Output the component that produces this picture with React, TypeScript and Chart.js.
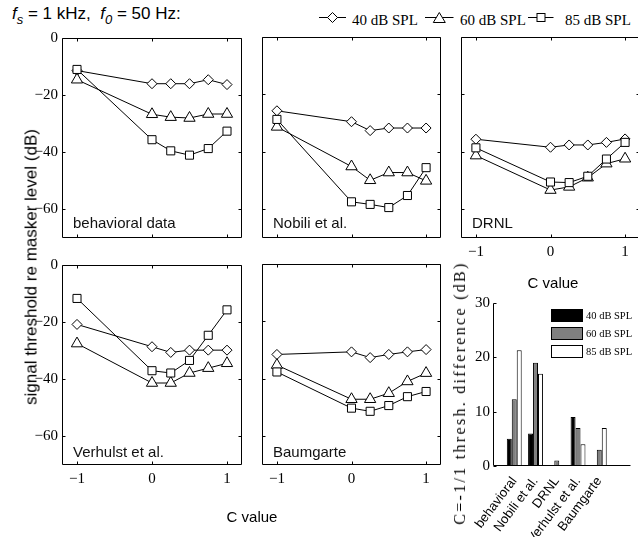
import React, { useEffect, useRef } from 'react';
import { Chart, registerables } from 'chart.js';

Chart.register(...registerables);

// ---------- data ----------
const cValues = [-1, 0, 0.25, 0.5, 0.75, 1];
const levels = ['40 dB SPL', '60 dB SPL', '85 dB SPL'];

const behavioral40 = [-11.4, -16, -16, -16, -14.6, -16.3];
const behavioral60 = [-14.6, -26.7, -27.7, -28, -26.6, -26.6];
const behavioral85 = [-11, -35.6, -39.5, -41, -38.7, -32.6];

const nobili40 = [-25.7, -29.5, -32.6, -31.7, -31.7, -31.7];
const nobili60 = [-31.3, -45.1, -49.9, -47.2, -47.2, -50.1];
const nobili85 = [-28.7, -57.4, -58.3, -59.4, -55.2, -45.5];

const drnl40 = [-35.6, -38.4, -37.6, -37.6, -36.7, -35.5];
const drnl60 = [-41.3, -53.3, -52.2, -49, -44.1, -42.4];
const drnl85 = [-38.6, -50.5, -50.7, -48.5, -42.5, -36.7];

const verhulst40 = [-20.8, -28.6, -30.6, -29.8, -29.8, -29.8];
const verhulst60 = [-27.5, -41.3, -41.3, -37.8, -36.1, -34.4];
const verhulst85 = [-11.7, -37, -37.8, -33.4, -24.6, -15.7];

const baumgarte40 = [-31.5, -30.6, -32.6, -31.5, -30.6, -29.8];
const baumgarte60 = [-35.2, -47.1, -47.1, -45, -40.9, -38];
const baumgarte85 = [-37.6, -50.2, -51.3, -49.3, -46.2, -44.4];

const barCategories = ['behavioral', 'Nobili et al.', 'DRNL', 'Verhulst et al.', 'Baumgarte'];
const diff40 = [5, 6, 0, 9, 0];
const diff60 = [12.3, 19, 1, 7, 3];
const diff85 = [21.3, 17, 0, 4, 7];

const thresholdTicks = [-60, -40, -20, 0];
const cTicks = [-1, 0, 1];
const diffTicks = [0, 10, 20, 30];

// ---------- layout / style ----------
const SANS = '"Liberation Sans", Arial, sans-serif';
const SERIF = '"Liberation Serif", "Times New Roman", serif';
const AX_W = 50;
const AX_H = 30;
const PAD_T = 12;
const PAD_R = 12;
const PLOT_H = 201;

const panelLayout = [
  { name: 'behavioral data', series: [behavioral40, behavioral60, behavioral85], left: 62, top: 37, w: 180, showX: false, showY: true, gap: 10 },
  { name: 'Nobili et al.', series: [nobili40, nobili60, nobili85], left: 262, top: 37, w: 179, showX: false, showY: false, gap: 10 },
  { name: 'DRNL', series: [drnl40, drnl60, drnl85], left: 461, top: 37, w: 179, showX: true, showY: false, gap: 10 },
  { name: 'Verhulst et al.', series: [verhulst40, verhulst60, verhulst85], left: 62, top: 264, w: 180, showX: true, showY: true, gap: 8 },
  { name: 'Baumgarte', series: [baumgarte40, baumgarte60, baumgarte85], left: 262, top: 264, w: 179, showX: true, showY: false, gap: 8 },
];

const fmt = (v: any) => {
  const n = Number(v);
  return n < 0 ? '\u2212' + Math.abs(n) : String(n);
};

function makeFramePlugin(o: { box: boolean; xTicks: number[]; yTicks: number[]; label?: string; gap?: number; legend?: boolean }) {
  return {
    id: 'frame',
    afterDraw(chart: any) {
      const { ctx, chartArea: a } = chart;
      const xs = chart.scales.x;
      const ys = chart.scales.y;
      const L = Math.round(a.left) + 0.5;
      const R = Math.round(a.right) - 0.5;
      const T = Math.round(a.top) + 0.5;
      const B = Math.round(a.bottom) - 0.5;
      ctx.save();
      ctx.strokeStyle = '#000';
      ctx.lineWidth = 1;
      ctx.beginPath();
      if (o.box) {
        ctx.rect(L, T, R - L, B - T);
      } else {
        ctx.moveTo(L, T);
        ctx.lineTo(L, B);
        ctx.lineTo(R + 10, B);
      }
      const tl = 3;
      o.xTicks.forEach((v) => {
        const px = Math.round(xs.getPixelForValue(v)) + 0.5;
        ctx.moveTo(px, B);
        ctx.lineTo(px, B - tl);
        if (o.box) {
          ctx.moveTo(px, T);
          ctx.lineTo(px, T + tl);
        }
      });
      o.yTicks.forEach((v) => {
        const py = Math.round(ys.getPixelForValue(v)) + 0.5;
        ctx.moveTo(L, py);
        ctx.lineTo(L + tl, py);
        if (o.box) {
          ctx.moveTo(R, py);
          ctx.lineTo(R - tl, py);
        }
      });
      ctx.stroke();
      if (o.label) {
        ctx.fillStyle = '#111';
        ctx.font = '15px ' + SANS;
        ctx.textAlign = 'left';
        ctx.textBaseline = 'alphabetic';
        ctx.fillText(o.label, a.left + 11, a.bottom - (o.gap || 10));
      }
      if (o.legend) {
        const dss = chart.data.datasets;
        const x0 = a.left + 58;
        dss.forEach((ds: any, i: number) => {
          const y0 = a.top + 6 + i * 18;
          ctx.fillStyle = ds.backgroundColor;
          ctx.fillRect(x0, y0, 32, 13);
          ctx.strokeRect(x0 + 0.5, y0 + 0.5, 31, 12);
          ctx.fillStyle = '#000';
          ctx.font = '10.5px ' + SERIF;
          ctx.textAlign = 'left';
          ctx.textBaseline = 'middle';
          ctx.fillText(ds.label, x0 + 35, y0 + 7);
        });
      }
      ctx.restore();
    },
  };
}

function lineConfig(p: any): any {
  const styles = [
    { ps: 'rectRot', r: 5, order: 3 },
    { ps: 'triangle', r: 6.5, order: 2 },
    { ps: 'rect', r: 5.7, order: 1 },
  ];
  return {
    type: 'line',
    data: {
      datasets: p.series.map((s: number[], i: number) => ({
        label: levels[i],
        data: cValues.map((x, j) => ({ x, y: s[j] })),
        borderColor: '#000',
        borderWidth: 1,
        pointStyle: styles[i].ps,
        pointRadius: styles[i].r,
        pointBackgroundColor: '#fff',
        pointBorderColor: '#000',
        pointBorderWidth: 1,
        order: styles[i].order,
        tension: 0,
      })),
    },
    options: {
      animation: false,
      responsive: false,
      layout: { padding: { top: PAD_T, right: PAD_R, left: 0, bottom: 0 } },
      scales: {
        x: {
          type: 'linear',
          min: -1.2,
          max: 1.2,
          afterBuildTicks: (s: any) => { s.ticks = cTicks.map((v) => ({ value: v })); },
          afterFit: (s: any) => { s.height = AX_H; },
          grid: { display: false, drawTicks: false },
          border: { display: false },
          ticks: { display: p.showX, autoSkip: false, maxRotation: 0, padding: 5, color: '#000', font: { family: SERIF, size: 15 }, callback: fmt },
        },
        y: {
          type: 'linear',
          min: -70,
          max: 0,
          afterBuildTicks: (s: any) => { s.ticks = thresholdTicks.map((v) => ({ value: v })); },
          afterFit: (s: any) => { s.width = AX_W; },
          grid: { display: false, drawTicks: false },
          border: { display: false },
          ticks: { display: p.showY, autoSkip: false, padding: 4, color: '#000', font: { family: SERIF, size: 15 }, callback: fmt },
        },
      },
      plugins: { legend: { display: false }, tooltip: { enabled: false } },
    },
    plugins: [makeFramePlugin({ box: true, xTicks: cTicks, yTicks: thresholdTicks, label: p.name, gap: p.gap })],
  };
}

function barConfig(): any {
  const pad = (a: number[]) => [null, ...a, null];
  return {
    type: 'bar',
    data: {
      labels: ['', ...barCategories, ''],
      datasets: [
        { label: levels[0], data: pad(diff40), backgroundColor: '#000', borderColor: '#000', borderWidth: 1 },
        { label: levels[1], data: pad(diff60), backgroundColor: '#808080', borderColor: '#000', borderWidth: 1 },
        { label: levels[2], data: pad(diff85), backgroundColor: '#fff', borderColor: '#000', borderWidth: 1 },
      ],
    },
    options: {
      animation: false,
      responsive: false,
      datasets: { bar: { categoryPercentage: 0.7, barPercentage: 1 } },
      layout: { padding: { top: 13, right: 0, left: 0, bottom: 0 } },
      scales: {
        x: {
          offset: false,
          afterFit: (s: any) => { s.height = 71; },
          grid: { display: false, drawTicks: false },
          border: { display: false },
          ticks: { autoSkip: false, minRotation: 53, maxRotation: 53, padding: 8, color: '#000', font: { family: SANS, size: 13 } },
        },
        y: {
          min: 0,
          max: 30,
          afterBuildTicks: (s: any) => { s.ticks = diffTicks.map((v) => ({ value: v })); },
          afterFit: (s: any) => { s.width = 53; },
          grid: { display: false, drawTicks: false },
          border: { display: false },
          ticks: { padding: 3, color: '#000', font: { family: SERIF, size: 15 } },
        },
      },
      plugins: { legend: { display: false }, tooltip: { enabled: false } },
    },
    plugins: [makeFramePlugin({ box: false, xTicks: [], yTicks: diffTicks, legend: true })],
  };
}

function ChartCanvas({ left, top, width, height, make }: { left: number; top: number; width: number; height: number; make: () => any }) {
  const ref = useRef<HTMLCanvasElement>(null);
  useEffect(() => {
    const chart = new Chart(ref.current!, make());
    return () => chart.destroy();
  }, []);
  return <canvas ref={ref} width={width} height={height} style={{ position: 'absolute', left, top, width, height }} />;
}

function Label({ x, y, text, font, rotate, spacing }: { x: number; y: number; text: string; font: string; rotate?: boolean; spacing?: number }) {
  return (
    <div
      style={{
        position: 'absolute',
        left: x,
        top: y,
        font,
        lineHeight: 1,
        whiteSpace: 'nowrap',
        color: '#000',
        letterSpacing: spacing ? spacing + 'px' : undefined,
        transform: 'translate(-50%, -50%)' + (rotate ? ' rotate(-90deg)' : ''),
      }}
    >
      {text}
    </div>
  );
}

function TopLegend() {
  const y = 17.5;
  const stroke = { stroke: '#000', strokeWidth: 1, fill: '#fff' };
  return (
    <svg width={638} height={32} style={{ position: 'absolute', left: 0, top: 0 }}>
      <line x1={319} x2={346} y1={y} y2={y} stroke="#000" strokeWidth={1} />
      <polygon points={`${332.5 - 5},${y} 332.5,${y - 5} ${332.5 + 5},${y} 332.5,${y + 5}`} {...stroke} />
      <text x={352} y={25} style={{ font: '15px ' + SERIF }}>{levels[0]}</text>
      <line x1={425} x2={453.5} y1={y} y2={y} stroke="#000" strokeWidth={1} />
      <polygon points={`${439.3 - 6},${y + 5} ${439.3 + 6},${y + 5} 439.3,${y - 5}`} {...stroke} />
      <text x={460} y={25} style={{ font: '15px ' + SERIF }}>{levels[1]}</text>
      <line x1={528} x2={553.5} y1={y} y2={y} stroke="#000" strokeWidth={1} />
      <rect x={541 - 4} y={y - 4} width={8} height={8} {...stroke} />
      <text x={565} y={25} style={{ font: '15px ' + SERIF }}>{levels[2]}</text>
    </svg>
  );
}

export default function App() {
  return (
    <div style={{ position: 'absolute', left: 0, top: 0, width: 638, height: 537, overflow: 'hidden', background: '#fff' }}>
      <div style={{ position: 'absolute', left: 12, top: 5, font: '17px ' + SANS, lineHeight: '18px', whiteSpace: 'nowrap', color: '#000' }}>
        <i>f</i>
        <span style={{ position: 'relative', top: 5, fontSize: 13, fontStyle: 'italic' }}>s</span>
        {' = 1 kHz,\u00a0 '}
        <i>f</i>
        <span style={{ position: 'relative', top: 5, fontSize: 13, fontStyle: 'italic' }}>0</span>
        {' = 50 Hz:'}
      </div>
      <TopLegend />
      {panelLayout.map((p, i) => (
        <ChartCanvas
          key={i}
          left={p.left - AX_W}
          top={p.top - PAD_T}
          width={p.w + AX_W + PAD_R}
          height={PLOT_H + PAD_T + AX_H}
          make={() => lineConfig(p)}
        />
      ))}
      <ChartCanvas left={440} top={290} width={201} height={247} make={barConfig} />
      <Label x={31} y={267} text="signal threshold re masker level (dB)" font={'17px ' + SANS} rotate />
      <Label x={252} y={516} text="C value" font={'15px ' + SANS} />
      <Label x={553} y={282} text="C value" font={'15px ' + SANS} />
      <Label x={460} y={393} text="C=-1/1 thresh. difference (dB)" font={'16px ' + SERIF} rotate spacing={2.3} />
    </div>
  );
}
